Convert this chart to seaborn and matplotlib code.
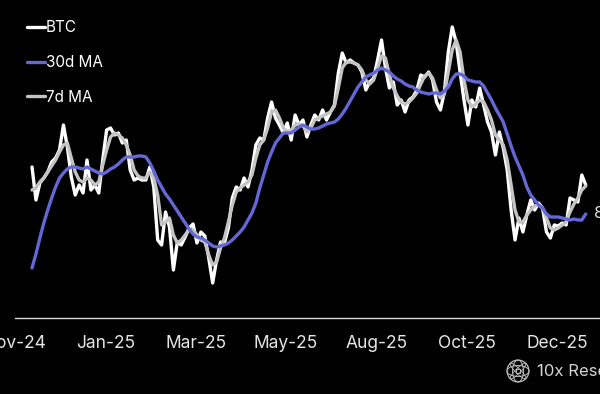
import numpy as np
import pandas as pd
import seaborn as sns
import matplotlib.pyplot as plt
from matplotlib.patches import Circle, Ellipse, Rectangle

# Day number (counted from the first axis tick), one value every 3 days
days = np.arange(13, 437, 3)

# BTC price, USD thousands
btc = [98.2, 91.6, 95.0, 96.0, 97.2, 99.2, 100.0, 101.6, 106.6, 102.2,
       96.2, 92.6, 94.6, 93.0, 99.6, 93.6, 94.6, 93.0, 99.6, 105.6,
       106.0, 104.6, 105.0, 103.0, 103.6, 97.6, 95.6, 96.0, 95.6, 95.6,
       98.2, 94.2, 83.6, 82.6, 89.2, 86.2, 77.6, 83.2, 82.6, 84.2,
       86.0, 86.8, 83.0, 85.2, 84.4, 80.0, 75.0, 79.6, 83.2, 83.0,
       86.0, 92.0, 94.2, 93.6, 96.0, 94.2, 97.6, 102.6, 104.0, 103.6,
       108.0, 111.2, 108.0, 106.6, 105.0, 107.0, 103.6, 108.6, 106.6, 107.6,
       104.2, 106.6, 108.6, 107.6, 109.6, 107.6, 109.2, 110.6, 117.0, 121.0,
       119.0, 119.6, 119.0, 118.6, 117.2, 113.6, 115.2, 116.0, 119.6, 123.6,
       118.0, 114.0, 115.2, 110.6, 111.6, 109.2, 111.6, 112.2, 113.6, 116.6,
       116.2, 117.2, 115.6, 111.2, 109.6, 113.2, 121.2, 126.2, 123.2, 117.2,
       111.6, 106.6, 111.6, 110.2, 114.0, 110.6, 107.2, 105.2, 100.6, 105.2,
       102.0, 97.6, 89.6, 83.6, 88.0, 85.2, 88.6, 91.6, 89.6, 91.0,
       90.0, 85.2, 84.0, 86.6, 86.4, 87.0, 86.6, 92.0, 91.6, 91.2,
       96.6, 94.6]

# 7-day moving average, USD thousands
ma7 = [93.6, 94.0, 95.2, 96.0, 97.2, 98.4, 99.6, 101.2, 102.6, 103.0,
       100.0, 97.2, 95.6, 95.2, 96.0, 95.6, 94.6, 95.2, 98.6, 101.6,
       104.2, 105.0, 104.6, 104.0, 102.6, 100.6, 97.6, 96.4, 96.0, 96.0,
       97.2, 96.0, 92.6, 86.6, 87.2, 88.0, 84.6, 83.0, 83.6, 84.6,
       85.6, 85.6, 84.6, 83.6, 83.2, 80.6, 78.6, 79.2, 82.0, 84.0,
       87.2, 90.6, 93.2, 94.0, 94.6, 95.2, 96.6, 100.0, 102.6, 103.6,
       106.0, 109.2, 109.6, 108.0, 106.0, 105.2, 105.6, 106.6, 106.8, 106.4,
       105.2, 106.0, 107.6, 108.0, 108.4, 108.8, 109.2, 110.4, 114.0, 118.0,
       119.2, 119.2, 119.0, 118.6, 117.6, 115.6, 114.8, 115.6, 118.0, 120.4,
       120.0, 116.6, 114.0, 112.4, 111.2, 110.8, 111.2, 112.0, 113.0, 114.8,
       116.4, 117.0, 116.0, 113.6, 112.0, 112.8, 117.2, 121.6, 123.6, 121.2,
       115.6, 111.6, 110.2, 110.8, 111.6, 111.2, 109.6, 107.6, 104.6, 103.6,
       102.6, 99.6, 94.6, 89.6, 87.2, 87.2, 88.6, 89.6, 90.4, 90.6,
       90.0, 88.0, 86.0, 85.6, 86.0, 86.6, 87.2, 89.2, 90.8, 92.0,
       93.6, 94.4]

# 30-day moving average, USD thousands
ma30 = [78.0, 80.8, 84.0, 87.0, 89.6, 92.0, 94.2, 96.0, 97.0, 97.8,
        98.2, 98.2, 98.0, 97.8, 98.2, 97.8, 97.4, 97.0, 96.8, 97.2,
        97.8, 98.2, 98.8, 99.6, 100.2, 100.2, 100.2, 100.4, 100.4, 100.2,
        99.0, 97.4, 95.6, 94.2, 92.8, 91.8, 90.6, 89.4, 88.2, 87.0,
        85.8, 84.8, 84.2, 84.0, 83.6, 83.0, 82.4, 82.2, 82.4, 82.6,
        83.0, 83.6, 84.4, 85.2, 86.2, 87.6, 89.0, 91.0, 94.0, 96.6,
        99.2, 101.2, 103.0, 104.0, 105.0, 105.0, 105.0, 105.6, 106.2, 106.6,
        106.2, 105.8, 105.8, 106.0, 106.4, 106.8, 107.0, 107.2, 107.8, 108.8,
        110.0, 111.4, 112.8, 114.2, 115.2, 116.2, 116.6, 117.0, 117.6, 118.0,
        117.6, 117.2, 116.4, 115.8, 115.4, 114.8, 114.4, 114.2, 113.6, 113.2,
        113.0, 112.8, 113.0, 113.0, 112.8, 113.4, 114.2, 115.8, 116.8, 116.8,
        116.4, 115.6, 115.4, 115.2, 115.2, 114.4, 113.0, 111.6, 110.0, 108.6,
        107.2, 104.8, 102.4, 100.2, 98.4, 96.6, 94.2, 92.6, 91.6, 90.6,
        90.0, 88.8, 88.2, 88.2, 88.2, 88.0, 87.8, 87.6, 87.8, 87.6,
        87.6, 88.8]

tick_days = [0, 69, 138, 207, 276, 345, 414]
tick_labels = ['Nov-24', 'Jan-25', 'Mar-25', 'May-25', 'Aug-25', 'Oct-25', 'Dec-25']

df = pd.DataFrame({'day': days, 'BTC': btc, '7d MA': ma7, '30d MA': ma30})

sns.set_style('dark', {'axes.facecolor': 'black', 'figure.facecolor': 'black'})
plt.rcParams['font.family'] = ['Inter', 'DejaVu Sans']

fig = plt.figure(figsize=(6, 3.94), dpi=100)
ax = fig.add_axes([15 / 600, 76 / 394, 585 / 600, 308 / 394])

sns.lineplot(data=df, x='day', y='BTC', color='white', lw=1.7, ax=ax, label='BTC')
sns.lineplot(data=df, x='day', y='7d MA', color='#c4c4c4', lw=2.0, ax=ax, label='7d MA')
sns.lineplot(data=df, x='day', y='30d MA', color='#6467d6', lw=2.2, ax=ax, label='30d MA')

ax.set_xlim(0, 446.9)
ax.set_ylim(68, 129.6)
for side in ['top', 'left', 'right']:
    ax.spines[side].set_visible(False)
ax.spines['bottom'].set_color('#d8d8d8')
ax.spines['bottom'].set_linewidth(1)
ax.grid(False)
ax.set_yticks([])
ax.set_xticks(tick_days, tick_labels)
ax.tick_params(axis='x', colors='#e6e6e6', length=5, width=1, pad=7, labelsize=12.5)
ax.set_xlabel('')
ax.set_ylabel('')

# legend in the order BTC, 30d MA, 7d MA
handles, labels = ax.get_legend_handles_labels()
order = [0, 2, 1]
for h in handles:
    h.set_linewidth(2.4)
leg = ax.legend([handles[i] for i in order], [labels[i] for i in order],
                loc='upper left', bbox_to_anchor=(27 / 600, 1 - 20 / 394),
                bbox_transform=fig.transFigure, frameon=False, fontsize=11,
                handlelength=1.2, handletextpad=0.05, labelspacing=1.3,
                borderpad=0, borderaxespad=0)
for t in leg.get_texts():
    t.set_color('white')

# last value of the 30d MA, cut by the right edge
ax.annotate(f'{ma30[-1] * 1000:,.0f}', xy=(days[-1], ma30[-1]), xytext=(6, 0),
            textcoords='offset points', va='center', ha='left', fontsize=12,
            color='#dedede', annotation_clip=False)

# watermark
logo = fig.add_axes([506 / 600, 11 / 394, 24 / 600, 24 / 394])
logo.set_xlim(-1.1, 1.1)
logo.set_ylim(-1.1, 1.1)
logo.set_aspect('equal')
logo.axis('off')
wm = '#bdbdbd'
logo.add_patch(Circle((0, 0), 1, fill=False, ec=wm, lw=0.9))
for ang in [0, 90]:
    logo.add_patch(Ellipse((0, 0), 2, 1.0, angle=ang, fill=False, ec=wm, lw=0.7))
    logo.add_patch(Ellipse((0, 0), 2, 0.45, angle=ang + 45, fill=False, ec=wm, lw=0.6))
logo.add_patch(Rectangle((-0.22, -0.22), 0.44, 0.44, fill=False, ec=wm, lw=0.7))
fig.text(537 / 600, 1 - 371 / 394, '10x Research', va='center', ha='left',
         fontsize=12, color='#d4d4d4')

fig.savefig('out.png', dpi=100, facecolor='black')
